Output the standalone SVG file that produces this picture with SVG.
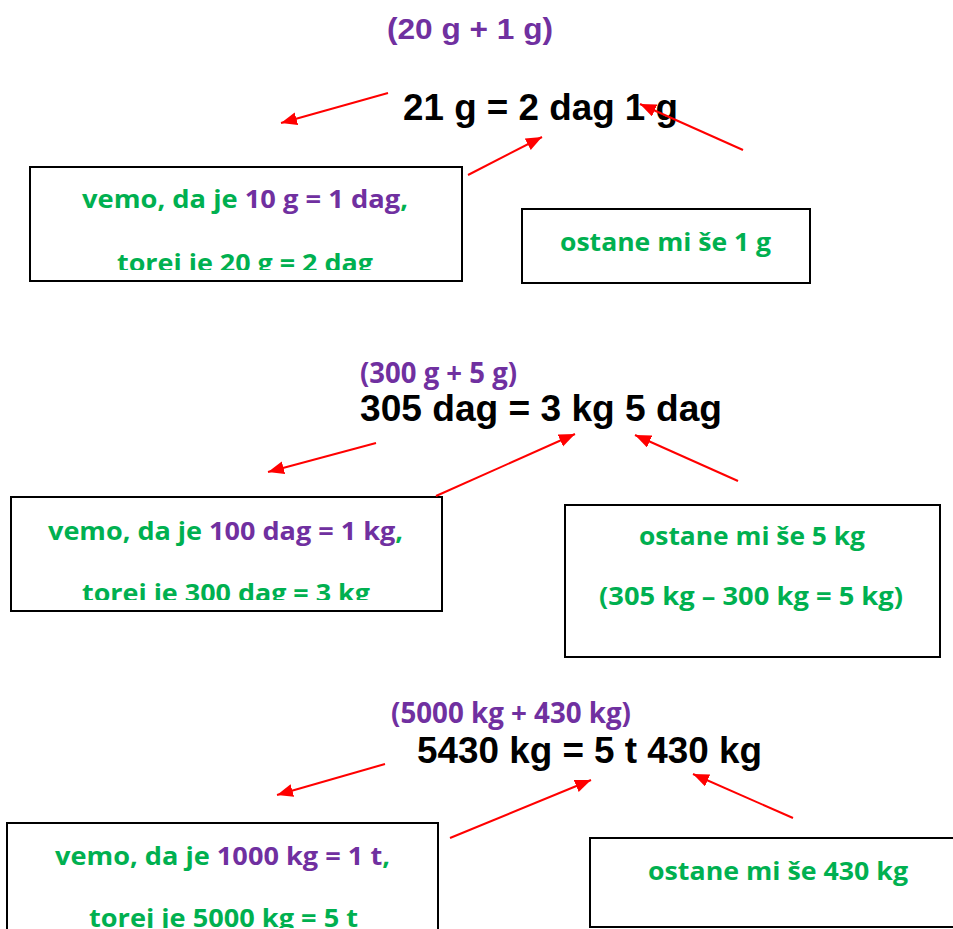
<svg xmlns="http://www.w3.org/2000/svg" width="953" height="929" viewBox="0 0 953 929">
  <style>
    .eq { font-family: "Liberation Sans", Arial, sans-serif; font-weight: bold; font-size: 36px; fill: #000; }
    .hdrA { font-family: "Liberation Sans", Arial, sans-serif; font-weight: bold; font-size: 29px; fill: #7030A0; }
    .hdrC { font-family: "Open Sans", Lato, sans-serif; font-weight: bold; font-size: 28.5px; fill: #7030A0; }
    .bx { font-family: "Open Sans", Lato, sans-serif; font-weight: bold; font-size: 24.5px; fill: #00B050; }
    .pu { fill: #7030A0; }
    .box { fill: #fff; stroke: #000; stroke-width: 2; }
    .arr { stroke: #FF0000; stroke-width: 2; fill: none; marker-end: url(#ah); }
  </style>
  <defs>
    <marker id="ah" markerUnits="userSpaceOnUse" markerWidth="18" markerHeight="14" refX="16" refY="6.5" orient="auto">
      <path d="M0,0 L16,6.5 L0,13 z" fill="#FF0000"/>
    </marker>
    <clipPath id="c1"><rect x="30" y="167" width="432" height="103"/></clipPath>
    <clipPath id="c3"><rect x="11" y="497" width="431" height="103"/></clipPath>
    <clipPath id="c5"><rect x="7" y="823" width="431" height="105"/></clipPath>
  </defs>
  <rect width="953" height="929" fill="#fff"/>

  <!-- Section 1 -->
  <g id="hdr1"><text class="hdrA" x="387" y="39" textLength="166" lengthAdjust="spacingAndGlyphs">(20 g + 1 g)</text></g>
  <g id="eq1"><text class="eq" x="403" y="120" textLength="275" lengthAdjust="spacingAndGlyphs">21 g = 2 dag 1 g</text></g>
  <g id="box1">
    <rect class="box" x="30" y="167" width="432" height="114"/>
    <g clip-path="url(#c1)">
      <text class="bx" x="82" y="208" textLength="326" lengthAdjust="spacingAndGlyphs">vemo, da je <tspan class="pu">10 g = 1 dag</tspan>,</text>
      <text class="bx" x="117" y="272" textLength="256" lengthAdjust="spacingAndGlyphs">torej je 20 g = 2 dag</text>
    </g>
  </g>
  <g id="box2">
    <rect class="box" x="522" y="209" width="288" height="74"/>
    <text class="bx" x="560" y="251" textLength="211" lengthAdjust="spacingAndGlyphs">ostane mi še 1 g</text>
  </g>

  <!-- Section 2 -->
  <g id="hdr2"><text class="hdrC" x="360" y="383" textLength="157" lengthAdjust="spacingAndGlyphs">(300 g + 5 g)</text></g>
  <g id="eq2"><text class="eq" x="360" y="421" textLength="362" lengthAdjust="spacingAndGlyphs">305 dag = 3 kg 5 dag</text></g>
  <g id="box3">
    <rect class="box" x="11" y="497" width="431" height="114"/>
    <g clip-path="url(#c3)">
      <text class="bx" x="48" y="540" textLength="355" lengthAdjust="spacingAndGlyphs">vemo, da je <tspan class="pu">100 dag = 1 kg</tspan>,</text>
      <text class="bx" x="82" y="602" textLength="288" lengthAdjust="spacingAndGlyphs">torej je 300 dag = 3 kg</text>
    </g>
  </g>
  <g id="box4">
    <rect class="box" x="565" y="505" width="375" height="152"/>
    <text class="bx" x="639" y="545" textLength="226" lengthAdjust="spacingAndGlyphs">ostane mi še 5 kg</text>
    <text class="bx" x="599" y="605" textLength="304" lengthAdjust="spacingAndGlyphs">(305 kg – 300 kg = 5 kg)</text>
  </g>

  <!-- Section 3 -->
  <g id="hdr3"><text class="hdrC" x="391" y="723" textLength="240" lengthAdjust="spacingAndGlyphs">(5000 kg + 430 kg)</text></g>
  <g id="eq3"><text class="eq" x="417" y="763" textLength="345" lengthAdjust="spacingAndGlyphs">5430 kg = 5 t 430 kg</text></g>
  <g id="box5">
    <rect class="box" x="7" y="823" width="431" height="130"/>
    <g clip-path="url(#c5)">
      <text class="bx" x="55" y="865" textLength="335" lengthAdjust="spacingAndGlyphs">vemo, da je <tspan class="pu">1000 kg = 1 t</tspan>,</text>
      <text class="bx" x="89" y="927" textLength="269" lengthAdjust="spacingAndGlyphs">torej je 5000 kg = 5 t</text>
    </g>
  </g>
  <g id="box6">
    <rect class="box" x="590" y="838" width="380" height="89"/>
    <text class="bx" x="648" y="880" textLength="260" lengthAdjust="spacingAndGlyphs">ostane mi še 430 kg</text>
  </g>

  <g id="connectors">
    <line class="arr" x1="388" y1="93" x2="281" y2="123"/>
    <line class="arr" x1="468" y1="175" x2="542" y2="137"/>
    <line class="arr" x1="743" y1="150" x2="640" y2="104"/>
    <line class="arr" x1="376" y1="443" x2="268" y2="472"/>
    <line class="arr" x1="436" y1="496" x2="575" y2="434"/>
    <line class="arr" x1="738" y1="481" x2="635" y2="435"/>
    <line class="arr" x1="385" y1="764" x2="277" y2="795"/>
    <line class="arr" x1="450" y1="838" x2="591" y2="780"/>
    <line class="arr" x1="793" y1="818" x2="693" y2="774"/>
  </g>
</svg>
